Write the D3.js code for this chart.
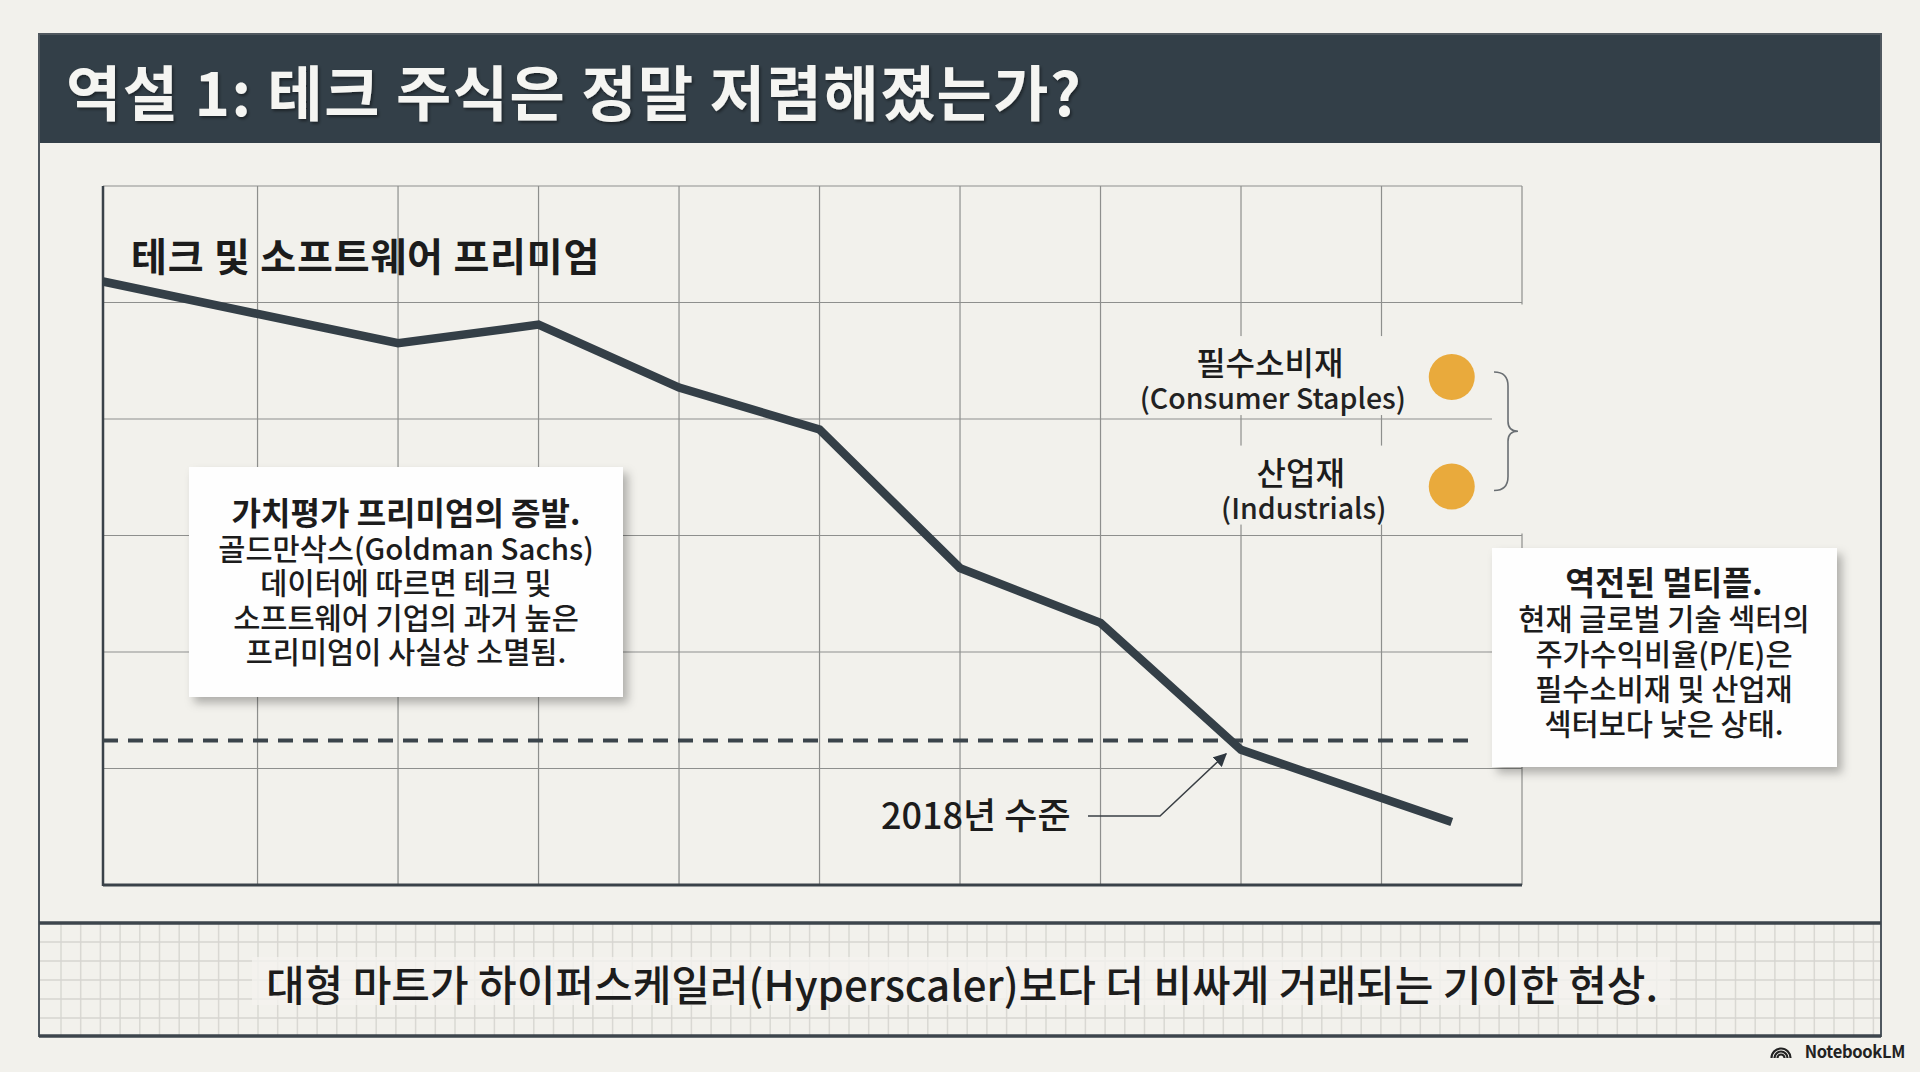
<!DOCTYPE html>
<html>
<head>
<meta charset="utf-8">
<script src="https://cdn.jsdelivr.net/npm/d3@7"></script>
<style>
  html, body { margin: 0; padding: 0; background: #f2f1ec; }
  svg { display: block; }
  text { font-family: "Noto Sans CJK KR", "Noto Sans", sans-serif; }
</style>
</head>
<body>
<svg id="chart" width="1920" height="1072"></svg>
<script>
// ---------- data ----------
const titleText = "역설 1: 테크 주식은 정말 저렴해졌는가?";
const seriesName = "테크 및 소프트웨어 프리미엄";
const periods = [-0.1, 2, 3, 4, 5, 6, 7, 8, 9.5];
const premium = [5.18, 4.65, 4.81, 4.27, 3.91, 2.72, 2.25, 1.16, 0.54];
const level2018 = 1.24;
const level2018Label = "2018년 수준";
const level2018Period = 8;
const refLineExtent = [-0.1, 9.67];
const sectorNames = ["필수소비재", "산업재"];
const sectorNamesEn = ["(Consumer Staples)", "(Industrials)"];
const sectorValues = [4.36, 3.42];
const sectorPeriod = 9.5;
const xDomain = [-0.1, 10];
const yDomain = [0, 6];
const xGridTicks = [1, 2, 3, 4, 5, 6, 7, 8, 9, 10];
const yGridTicks = [1, 2, 3, 4, 5, 6];
const leftNote = ["가치평가 프리미엄의 증발.", "골드만삭스(Goldman Sachs)", "데이터에 따르면 테크 및", "소프트웨어 기업의 과거 높은", "프리미엄이 사실상 소멸됨."];
const rightNote = ["역전된 멀티플.", "현재 글로벌 기술 섹터의", "주가수익비율(P/E)은", "필수소비재 및 산업재", "섹터보다 낮은 상태."];
const footerText = "대형 마트가 하이퍼스케일러(Hyperscaler)보다 더 비싸게 거래되는 기이한 현상.";
const brandText = "NotebookLM";

// ---------- setup ----------
const svg = d3.select("#chart");
const W = 1920, H = 1072;
const PAGE = "#f2f1ec", DARK = "#343f47", INK = "#1c1c1c";

const defs = svg.append("defs");
const sh = defs.append("filter").attr("id", "shadow").attr("x", "-10%").attr("y", "-10%").attr("width", "130%").attr("height", "140%");
sh.append("feDropShadow").attr("dx", 5).attr("dy", 6).attr("stdDeviation", 5).attr("flood-color", "#000").attr("flood-opacity", 0.28);
const tsh = defs.append("filter").attr("id", "tshadow").attr("x", "-5%").attr("y", "-20%").attr("width", "110%").attr("height", "150%");
tsh.append("feDropShadow").attr("dx", 1.5).attr("dy", 2).attr("stdDeviation", 1.5).attr("flood-color", "#000").attr("flood-opacity", 0.45);
defs.append("marker").attr("id", "arrow").attr("viewBox", "0 0 10 10").attr("refX", 9).attr("refY", 5)
  .attr("markerWidth", 9).attr("markerHeight", 9).attr("orient", "auto-start-reverse")
  .append("path").attr("d", "M0,0 L10,5 L0,10 z").attr("fill", "#2f3840");

svg.append("rect").attr("width", W).attr("height", H).attr("fill", PAGE);

// frame + header
const frame = { x: 39, y: 34, w: 1842, h: 1002 };
svg.append("rect").attr("x", frame.x).attr("y", frame.y).attr("width", frame.w).attr("height", 109).attr("fill", "#333f48");
svg.append("text").attr("x", 66).attr("y", 116).attr("fill", "#f5f5f2").attr("font-size", 60).attr("font-weight", 700)
  .attr("letter-spacing", 1.5).attr("filter", "url(#tshadow)")
  .text(titleText);

// chart
const x = d3.scaleLinear().domain(xDomain).range([103, 1522]);
const y = d3.scaleLinear().domain(yDomain).range([885, 186]);

const grid = svg.append("g");
grid.selectAll("line.v").data(xGridTicks).join("line").attr("class", "v")
  .attr("x1", d => x(d)).attr("x2", d => x(d)).attr("y1", y(yDomain[1])).attr("y2", y(0))
  .attr("stroke", "#8e8f8d").attr("stroke-width", 1.2);
grid.selectAll("line.h").data(yGridTicks).join("line").attr("class", "h")
  .attr("x1", x(xDomain[0])).attr("x2", x(xDomain[1])).attr("y1", d => y(d)).attr("y2", d => y(d))
  .attr("stroke", "#8e8f8d").attr("stroke-width", 1.2);
// cover near bracket
svg.append("rect").attr("x", 1492).attr("y", y(5) + 2).attr("width", 36).attr("height", y(3) - y(5) - 4).attr("fill", PAGE);
// axes
svg.append("line").attr("x1", x(xDomain[0])).attr("x2", x(xDomain[0])).attr("y1", y(yDomain[1])).attr("y2", y(0) + 1)
  .attr("stroke", "#3a4249").attr("stroke-width", 2.5);
svg.append("line").attr("x1", x(xDomain[0])).attr("x2", x(xDomain[1])).attr("y1", y(0)).attr("y2", y(0))
  .attr("stroke", "#3a4249").attr("stroke-width", 3);

// series label
svg.append("text").attr("x", 131).attr("y", 271).attr("font-size", 39).attr("font-weight", 700)
  .attr("letter-spacing", 0.8).attr("fill", INK).text(seriesName);

// sector labels with page-coloured backing
const sectorG = svg.append("g");
sectorValues.forEach((v, i) => {
  const cx = x(sectorPeriod), cy = y(v);
  const off = i === 0 ? 182 : 151;
  const g = sectorG.append("g");
  const bg = g.append("rect").attr("fill", PAGE);
  const t = g.append("text").attr("text-anchor", "middle").attr("fill", INK);
  t.append("tspan").attr("x", cx - off).attr("y", cy - 2)
    .attr("font-size", 32).attr("font-weight", 500).text(sectorNames[i]);
  t.append("tspan").attr("x", cx - off + 3).attr("y", cy + 32)
    .attr("font-size", 28.5).attr("font-weight", 500).attr("fill", "#222").text(sectorNamesEn[i]);
  const b = t.node().getBBox();
  bg.attr("x", b.x - 6).attr("y", b.y - 2).attr("width", b.width + 12).attr("height", b.height);
});
svg.selectAll("circle.sector").data(sectorValues).join("circle").attr("class", "sector")
  .attr("cx", x(sectorPeriod)).attr("cy", d => y(d)).attr("r", 23).attr("fill", "#e9aa3c");
// bracket
{
  const bx = 1508, top = y(sectorValues[0]) - 5, bot = y(sectorValues[1]) + 4, mid = (top + bot) / 2;
  svg.append("path").attr("fill", "none").attr("stroke", "#6a6f73").attr("stroke-width", 1.6)
    .attr("d", `M${bx - 14},${top} Q${bx},${top} ${bx},${top + 14} L${bx},${mid - 10} Q${bx},${mid} ${bx + 10},${mid} Q${bx},${mid} ${bx},${mid + 10} L${bx},${bot - 14} Q${bx},${bot} ${bx - 14},${bot}`);
}

// reference dashed line
svg.append("line").attr("x1", x(refLineExtent[0])).attr("x2", x(refLineExtent[1]))
  .attr("y1", y(level2018)).attr("y2", y(level2018))
  .attr("stroke", "#3b444b").attr("stroke-width", 4).attr("stroke-dasharray", "15 10");

// main series
const line = d3.line().x((d, i) => x(periods[i])).y(d => y(d));
svg.append("path").datum(premium).attr("d", line).attr("fill", "none")
  .attr("stroke", DARK).attr("stroke-width", 8.5).attr("stroke-linejoin", "miter");

// 2018 annotation
{
  const tx = x(level2018Period), ty = y(premium[periods.indexOf(level2018Period)]);
  svg.append("text").attr("x", 881).attr("y", 829).attr("font-size", 36).attr("font-weight", 500).attr("fill", INK).text(level2018Label);
  svg.append("path").attr("fill", "none").attr("stroke", "#3a3f44").attr("stroke-width", 1.5)
    .attr("marker-end", "url(#arrow)")
    .attr("d", `M1088,816 L1160,816 L${tx - 15},${ty + 4}`);
}

// callout boxes
function callout(lines, bx, by, bw, bh, cx, base, step, size, titleSize) {
  const g = svg.append("g");
  g.append("rect").attr("x", bx).attr("y", by).attr("width", bw).attr("height", bh)
    .attr("fill", "#fefefe").attr("filter", "url(#shadow)");
  const t = g.append("text").attr("text-anchor", "middle").attr("fill", INK);
  lines.forEach((s, i) => {
    t.append("tspan").attr("x", cx).attr("y", base + i * step)
      .attr("font-size", i === 0 ? titleSize : size).attr("font-weight", i === 0 ? 700 : 500).text(s);
  });
}
callout(leftNote, 189, 467, 434, 230, 406, 525, 34.5, 29.5, 32);
callout(rightNote, 1492, 548, 345, 219, 1664, 595, 35, 29.5, 32.5);

// footer band
const band = svg.append("g");
const bandTop = 923, bandBot = 1036;
band.selectAll("line.bv").data(d3.range(frame.x + 22, frame.x + frame.w, 19.7)).join("line").attr("class", "bv")
  .attr("x1", d => d).attr("x2", d => d).attr("y1", bandTop).attr("y2", bandBot)
  .attr("stroke", "#d9d8d3").attr("stroke-width", 1.5);
band.selectAll("line.bh").data(d3.range(bandTop + 19, bandBot, 19)).join("line").attr("class", "bh")
  .attr("x1", frame.x).attr("x2", frame.x + frame.w).attr("y1", d => d).attr("y2", d => d)
  .attr("stroke", "#d6d5d0").attr("stroke-width", 1.6);
band.append("rect").attr("x", 252).attr("y", 957).attr("width", 1418).attr("height", 48).attr("fill", "#f4f3ef").attr("opacity", 0.8);
band.append("text").attr("x", 962).attr("y", 1001).attr("text-anchor", "middle").attr("font-size", 42)
  .attr("font-weight", 500).attr("fill", INK).text(footerText);

// frame lines
svg.append("rect").attr("x", frame.x).attr("y", frame.y).attr("width", frame.w).attr("height", frame.h)
  .attr("fill", "none").attr("stroke", "#50585f").attr("stroke-width", 2);
svg.append("line").attr("x1", frame.x).attr("x2", frame.x + frame.w).attr("y1", bandTop).attr("y2", bandTop)
  .attr("stroke", "#3d454c").attr("stroke-width", 3.5);
svg.append("line").attr("x1", frame.x).attr("x2", frame.x + frame.w).attr("y1", bandBot).attr("y2", bandBot)
  .attr("stroke", "#3d454c").attr("stroke-width", 3.5);

// brand
{
  const g = svg.append("g");
  g.append("text").attr("x", 1905).attr("y", 1058).attr("text-anchor", "end").attr("font-family", "Inter, 'Noto Sans', sans-serif")
    .attr("font-size", 16.5).attr("font-weight", 600).attr("fill", "#222").attr("letter-spacing", -0.3).text(brandText);
  const ix = 1781, iy = 1058;
  [3.5, 6.5, 9.5].forEach(r => {
    g.append("path").attr("fill", "none").attr("stroke", "#222").attr("stroke-width", 2.2)
      .attr("d", `M${ix - r},${iy} A${r},${r} 0 0 1 ${ix + r},${iy}`);
  });
}
</script>
</body>
</html>
